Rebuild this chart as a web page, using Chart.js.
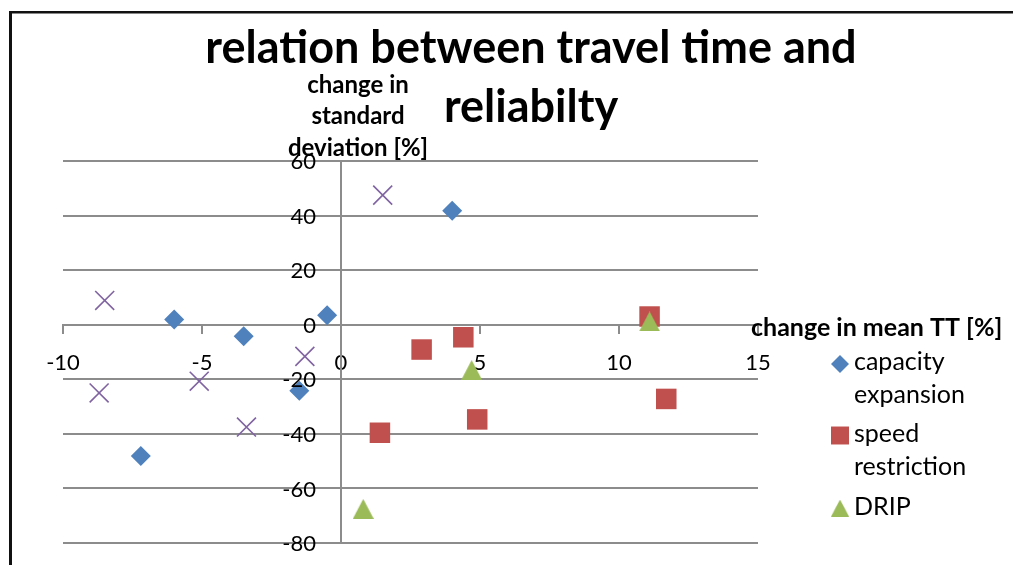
<!DOCTYPE html>
<html>
<head>
<meta charset="utf-8">
<script src="https://cdn.jsdelivr.net/npm/chart.js@4.4.1/dist/chart.umd.min.js"></script>
<style>
  html, body { margin: 0; padding: 0; background: #fff; }
  #wrap { width: 1013px; height: 565px; }
</style>
</head>
<body>
<div id="wrap"><canvas id="chart" width="1013" height="565"></canvas></div>
<script>
// Axis ticks
const xTicks = [-10, -5, 0, 5, 10, 15];
const yTicks = [-80, -60, -40, -20, 0, 20, 40, 60];

// Series: change in mean travel time [%] (x) vs change in standard deviation [%] (y)
const capacityX = [-6.0, -3.5, -0.5, 4.0, -1.5, -7.2];
const capacityY = [1.9, -4.2, 3.5, 41.8, -24.2, -48.1];

const speedX = [11.1, 4.4, 2.9, 1.4, 4.9, 11.7];
const speedY = [3.0, -4.6, -9.1, -39.6, -34.7, -27.2];

const dripX = [11.1, 4.7, 0.8];
const dripY = [1.2, -16.6, -67.5];

const otherX = [1.5, -8.5, -1.3, -5.1, -8.7, -3.4];
const otherY = [47.5, 8.9, -11.6, -20.7, -25.0, -37.5];

const seriesNames = ['capacity expansion', 'speed restriction', 'DRIP', ''];
const legendLines = [['capacity', 'expansion'], ['speed', 'restriction'], ['DRIP']];

const titleLines = ['relation between travel time and', 'reliabilty'];
const yTitleLines = ['change in', 'standard', 'deviation [%]'];
const xTitle = 'change in mean TT [%]';

const COLORS = { blue: '#4F81BD', red: '#C0504D', green: '#9BBB59', purple: '#8064A2' };
const GRID = '#8c8c8c';
const FONT = 'Lato, "Open Sans", sans-serif';

function pairs(xs, ys) { return xs.map((x, i) => ({ x, y: ys[i] })); }

// Upward triangle whose bounding box is centred on the point
function triangleMarker(w, h, color) {
  const c = document.createElement('canvas');
  c.width = w; c.height = h;
  const g = c.getContext('2d');
  g.fillStyle = color;
  g.beginPath();
  g.moveTo(w / 2, 0);
  g.lineTo(w, h);
  g.lineTo(0, h);
  g.closePath();
  g.fill();
  return c;
}
const triBig = triangleMarker(21, 20, COLORS.green);

const textPlugin = {
  id: 'chartTexts',
  beforeDraw(chart) {
    const ctx = chart.ctx;
    ctx.save();
    ctx.fillStyle = '#fff';
    ctx.fillRect(0, 0, chart.width, chart.height);
    // outer chart frame
    ctx.fillStyle = '#111';
    ctx.fillRect(9, 11, chart.width - 9, 2.5);
    ctx.fillRect(9, 11, 3, chart.height - 11);
    ctx.restore();
  },
  afterDraw(chart) {
    const ctx = chart.ctx;
    const xs = chart.scales.x, ys = chart.scales.y;
    ctx.save();
    ctx.fillStyle = '#000';

    // value labels of the vertical axis, set off to the left of the crossing axis
    ctx.font = '22px ' + FONT;
    ctx.textAlign = 'right';
    ctx.textBaseline = 'middle';
    const axisX = xs.getPixelForValue(0);
    yTicks.forEach(v => ctx.fillText(String(v), axisX - 25, ys.getPixelForValue(v) + 1));

    ctx.textBaseline = 'alphabetic';

    // chart title
    ctx.font = 'bold 45px ' + FONT;
    ctx.textAlign = 'center';
    ctx.fillText(titleLines[0], 531, 63);
    ctx.fillText(titleLines[1], 531, 122);

    // vertical axis title
    ctx.font = 'bold 24px ' + FONT;
    const yBase = [93, 124, 156];
    yTitleLines.forEach((t, i) => ctx.fillText(t, 358, yBase[i]));

    // horizontal axis title
    ctx.font = 'bold 25px ' + FONT;
    ctx.textAlign = 'left';
    ctx.fillText(xTitle, 751, 336);

    // legend
    const ds = chart.data.datasets;
    const markerX = 840;
    const markerY = [364, 435.5, 508];
    const textBase = [[370, 403], [442, 475], [515]];
    ctx.font = '25px ' + FONT;
    legendLines.forEach((lines, i) => {
      const d = ds[i];
      if (d.pointStyle instanceof HTMLCanvasElement) {
        ctx.drawImage(d.pointStyle, markerX - 9, markerY[i] - 8.5, 18, 17);
      } else {
        const r = d.pointStyle === 'rect' ? 12.7 : 9;
        ctx.fillStyle = d.backgroundColor;
        Chart.helpers.drawPoint(ctx, { pointStyle: d.pointStyle, radius: r, rotation: 0, borderWidth: 0 }, markerX, markerY[i]);
      }
      ctx.fillStyle = '#000';
      lines.forEach((t, j) => ctx.fillText(t, 854, textBase[i][j]));
    });
    ctx.restore();
  }
};

new Chart(document.getElementById('chart'), {
  type: 'scatter',
  data: {
    datasets: [
      {
        label: seriesNames[0], data: pairs(capacityX, capacityY),
        pointStyle: 'rectRot', pointRadius: 10, pointHoverRadius: 10,
        backgroundColor: COLORS.blue, borderWidth: 0, order: 3
      },
      {
        label: seriesNames[1], data: pairs(speedX, speedY),
        pointStyle: 'rect', pointRadius: 14.5, pointHoverRadius: 14.5,
        backgroundColor: COLORS.red, borderWidth: 0, order: 2
      },
      {
        label: seriesNames[2], data: pairs(dripX, dripY),
        pointStyle: triBig, pointRadius: 10, pointHoverRadius: 10,
        backgroundColor: COLORS.green, borderWidth: 0, order: 1
      },
      {
        label: seriesNames[3], data: pairs(otherX, otherY),
        pointStyle: 'crossRot', pointRadius: 13.4, pointHoverRadius: 13.4,
        backgroundColor: COLORS.purple, borderColor: COLORS.purple, borderWidth: 1.6, order: 0
      }
    ]
  },
  options: {
    responsive: false,
    animation: false,
    events: [],
    layout: { padding: { left: 63, top: 161, right: 255, bottom: 22 } },
    plugins: {
      legend: { display: false },
      title: { display: false },
      tooltip: { enabled: false }
    },
    scales: {
      x: {
        type: 'linear',
        position: { y: 0 },
        min: xTicks[0],
        max: xTicks[xTicks.length - 1],
        afterBuildTicks: (axis) => { axis.ticks = xTicks.map(v => ({ value: v })); },
        afterFit: (axis) => { axis.paddingLeft = 0; axis.paddingRight = 0; },
        ticks: {
          autoSkip: false, maxRotation: 0, padding: 17,
          color: '#000', font: { family: FONT, size: 22 },
          callback: (v) => String(v)
        },
        grid: { drawOnChartArea: false, drawTicks: true, tickLength: 8, color: GRID, lineWidth: 2 },
        border: { display: true, color: GRID, width: 2 }
      },
      y: {
        type: 'linear',
        position: { x: 0 },
        min: yTicks[0],
        max: yTicks[yTicks.length - 1],
        afterBuildTicks: (axis) => { axis.ticks = yTicks.map(v => ({ value: v })); },
        // axis sits inside the plot, so its labels need no extra room at the ends
        afterFit: (axis) => { axis.paddingTop = 0; axis.paddingBottom = 0; },
        ticks: { display: false },
        grid: { drawOnChartArea: true, drawTicks: true, tickLength: 7, color: GRID, lineWidth: 2 },
        border: { display: true, color: GRID, width: 2 }
      }
    }
  },
  plugins: [textPlugin]
});
</script>
</body>
</html>
